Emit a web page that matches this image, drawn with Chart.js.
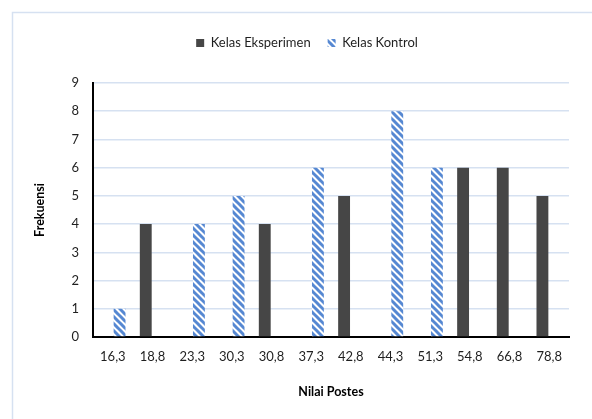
<!DOCTYPE html>
<html>
<head>
<meta charset="utf-8">
<script src="https://cdn.jsdelivr.net/npm/chart.js@4.4.1/dist/chart.umd.min.js"></script>
<style>
  html, body { margin: 0; padding: 0; background: #ffffff; }
  #wrap { width: 592px; height: 419px; position: relative; }
</style>
</head>
<body>
<div id="wrap"><canvas id="c" width="592" height="419"></canvas></div>
<script>
const categories = ['16,3','18,8','23,3','30,3','30,8','37,3','42,8','44,3','51,3','54,8','66,8','78,8'];
const kelasEksperimen = [null, 4, null, null, 4, null, 5, null, null, 6, 6, 5];
const kelasKontrol    = [1, null, 4, 5, null, 6, null, 8, 6, null, null, null];
const seriesLabels = ['Kelas Eksperimen', 'Kelas Kontrol'];
const yTicks = [0, 1, 2, 3, 4, 5, 6, 7, 8, 9];
const xTitle = 'Nilai Postes';
const yTitle = 'Frekuensi';

function stripePattern() {
  const s = 7;
  const c = document.createElement('canvas');
  c.width = s; c.height = s;
  const g = c.getContext('2d');
  g.fillStyle = '#ffffff';
  g.fillRect(0, 0, s, s);
  g.strokeStyle = '#5688d2';
  g.lineWidth = 3.0;
  g.beginPath();
  for (let k = -1; k <= 1; k++) {
    g.moveTo(k * s - 1, -1);
    g.lineTo(k * s + s + 1, s + 1);
  }
  g.stroke();
  return g.createPattern(c, 'repeat');
}

const frame = {
  id: 'frame',
  beforeDraw(chart) {
    const ctx = chart.ctx;
    ctx.save();
    ctx.strokeStyle = '#d6e1f1';
    ctx.lineWidth = 1.5;
    ctx.strokeRect(12.5, 12.5, 800, 800);
    ctx.restore();
  }
};

const legendSpacer = {
  id: 'legendSpacer',
  beforeLayout(chart) {
    const lg = chart.legend;
    if (lg && !lg._spaced) {
      const fit = lg.fit;
      lg.fit = function () { fit.call(this); this.height += 23.5; };
      lg._spaced = true;
    }
  }
};

const FONT = 'Lato, "Open Sans", sans-serif';

new Chart(document.getElementById('c'), {
  type: 'bar',
  data: {
    labels: categories,
    datasets: [
      { label: seriesLabels[0], data: kelasEksperimen, backgroundColor: '#464646', borderWidth: 0 },
      { label: seriesLabels[1], data: kelasKontrol, backgroundColor: stripePattern(), borderWidth: 0 }
    ]
  },
  options: {
    responsive: false,
    animation: false,
    devicePixelRatio: 1,
    categoryPercentage: 0.68,
    barPercentage: 0.88,
    layout: { padding: { left: 45, right: 23, top: 19.5, bottom: 0 } },
    plugins: {
      tooltip: { enabled: false },
      legend: {
        position: 'top',
        labels: {
          boxWidth: 8,
          boxHeight: 8,
          padding: 17,
          color: '#1f1f1f',
          font: { family: FONT, size: 13 }
        }
      }
    },
    scales: {
      x: {
        grid: { display: false, drawTicks: false },
        border: { display: true, color: '#000000', width: 2 },
        ticks: { color: '#1f1f1f', padding: 12, maxRotation: 0, autoSkip: false, font: { family: FONT, size: 13 } },
        title: { display: true, text: xTitle, color: '#000000', font: { family: FONT, size: 12.5, weight: 'bold' }, padding: { top: 0, bottom: 19.5 } },
        afterFit(scale) { scale.height = 82; }
      },
      y: {
        min: 0,
        max: 9,
        afterBuildTicks(scale) { scale.ticks = yTicks.map(v => ({ value: v })); },
        grid: { color: '#d6e1f1', lineWidth: 1.5, drawTicks: false },
        border: { display: true, color: '#000000', width: 2 },
        ticks: { color: '#1f1f1f', padding: 14, font: { family: FONT, size: 13 } },
        title: { display: true, text: yTitle, color: '#000000', font: { family: FONT, size: 12.5, weight: 'bold' }, padding: { top: -12.5, bottom: 0 } },
        afterFit(scale) { scale.width = 48; }
      }
    }
  },
  plugins: [frame, legendSpacer]
});
</script>
</body>
</html>
